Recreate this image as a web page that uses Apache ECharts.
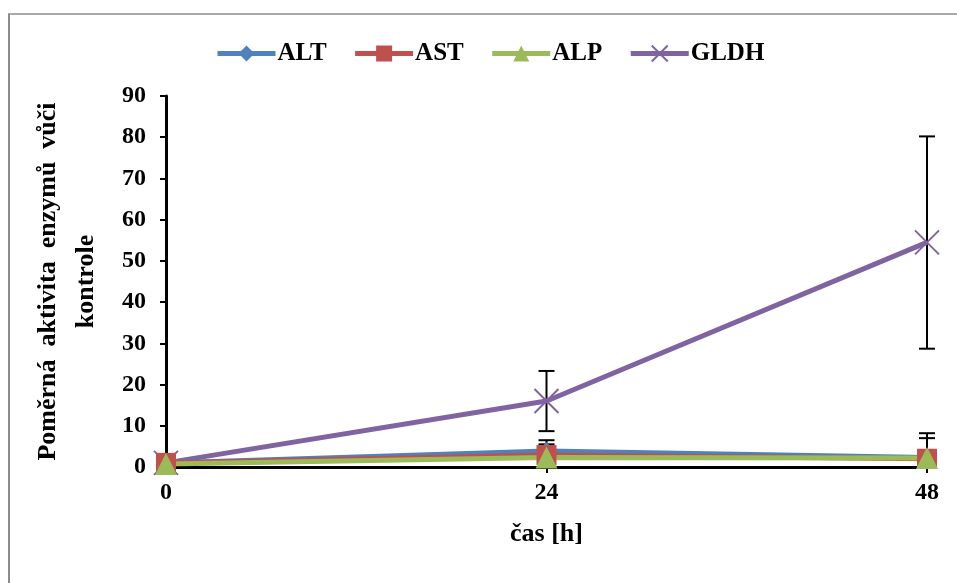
<!DOCTYPE html>
<html><head><meta charset="utf-8">
<script src="https://cdn.jsdelivr.net/npm/echarts@6/dist/echarts.min.js"></script>
<style>html,body{margin:0;padding:0;background:#fff}#c{width:957px;height:583px}</style>
</head><body><div id="c"></div>
<script>
var categories = ['0', '24', '48'];
var altValues = [1.0, 3.9, 2.3];
var astValues = [1.0, 2.9, 2.0];
var alpValues = [0.7, 2.3, 2.2];
var gldhValues = [1.0, 16.0, 54.5];
// error bar [low, high]
var altErr = [[0.8, 1.2], [1.3, 6.5], [0.5, 8.2]];
var astErr = [[0.8, 1.2], [0.4, 5.5], [0.2, 7.0]];
var alpErr = [[0.6, 0.8], [1.5, 3.1], [1.2, 3.2]];
var gldhErr = [[0.8, 1.2], [8.7, 23.3], [28.7, 80.2]];
var yTicks = [0, 10, 20, 30, 40, 50, 60, 70, 80, 90];

var chart = echarts.init(document.getElementById('c'));
var font = '"Liberation Serif","Times New Roman",serif';

function errSeries(err) {
  return {
    type: 'custom',
    silent: true,
    z: 3,
    data: err.map(function (e, i) { return [i, e[0], e[1]]; }),
    renderItem: function (params, api) {
      var lo = api.coord([api.value(0), api.value(1)]);
      var hi = api.coord([api.value(0), api.value(2)]);
      var hw = 8;
      var st = { stroke: '#000', lineWidth: 2 };
      return { type: 'group', children: [
        { type: 'line', shape: { x1: hi[0], y1: hi[1], x2: lo[0], y2: lo[1] }, style: st },
        { type: 'line', shape: { x1: hi[0] - hw, y1: hi[1], x2: hi[0] + hw, y2: hi[1] }, style: st },
        { type: 'line', shape: { x1: lo[0] - hw, y1: lo[1], x2: lo[0] + hw, y2: lo[1] }, style: st }
      ]};
    }
  };
}

function lineSeries(name, data, color, symbol, size, extra) {
  var s = {
    name: name, type: 'line', data: data, symbol: symbol, symbolSize: size,
    z: 4,
    lineStyle: { color: color, width: 5 },
    itemStyle: { color: color },
    emphasis: { disabled: true }
  };
  if (extra) Object.assign(s.itemStyle, extra);
  return s;
}

chart.setOption({
  animation: false,
  backgroundColor: '#fff',
  graphic: [
    { type: 'line', shape: { x1: 9, y1: 14, x2: 9, y2: 583 }, style: { stroke: '#8c8c8c', lineWidth: 2 } },
    { type: 'line', shape: { x1: 8, y1: 14, x2: 957, y2: 14 }, style: { stroke: '#8c8c8c', lineWidth: 1.5 } }
  ],
  legend: {
    top: 36, left: 210,
    itemGap: 26, itemWidth: 58, itemHeight: 20,
    lineStyle: { width: 5 },
    textStyle: { fontFamily: font, fontWeight: 'bold', fontSize: 25, color: '#000', padding: [0, 0, 0, -3] },
    data: ['ALT', 'AST', 'ALP', 'GLDH']
  },
  grid: { left: 166, right: 30, top: 96, bottom: 116, containLabel: false },
  xAxis: {
    type: 'category', data: categories, boundaryGap: false,
    name: 'čas [h]', nameLocation: 'middle', nameGap: 54,
    nameTextStyle: { fontFamily: font, fontWeight: 'bold', fontSize: 26, color: '#000' },
    axisLine: { lineStyle: { color: '#000', width: 3 } },
    axisTick: { show: true, length: 6, lineStyle: { color: '#000', width: 2 } },
    axisLabel: { fontFamily: font, fontWeight: 'bold', fontSize: 24, color: '#000', margin: 14 },
    splitLine: { show: false }
  },
  yAxis: {
    type: 'value', min: 0, max: 90, interval: 10,
    name: 'Poměrná  aktivita  enzymů  vůči\nkontrole', nameLocation: 'middle', nameGap: 61,
    nameTextStyle: { fontFamily: font, fontWeight: 'bold', fontSize: 26, color: '#000', lineHeight: 38 },
    axisLine: { show: true, lineStyle: { color: '#000', width: 3 } },
    axisTick: { show: true, length: 6, lineStyle: { color: '#000', width: 2 } },
    axisLabel: { fontFamily: font, fontWeight: 'bold', fontSize: 24, color: '#000', margin: 20,
      formatter: function (v) { return yTicks.indexOf(v) >= 0 ? String(v) : ''; } },
    splitLine: { show: false }
  },
  series: [
    errSeries(gldhErr), errSeries(altErr), errSeries(astErr), errSeries(alpErr),
    lineSeries('GLDH', gldhValues, '#8064a2', 'path://M0,0L10,10M10,0L0,10', 24, { borderColor: '#8064a2', borderWidth: 2 }),
    lineSeries('ALT', altValues, '#4f81bd', 'diamond', 18),
    lineSeries('AST', astValues, '#c0504d', 'rect', 20),
    lineSeries('ALP', alpValues, '#9bbb59', 'triangle', 22)
  ]
});
</script></body></html>
